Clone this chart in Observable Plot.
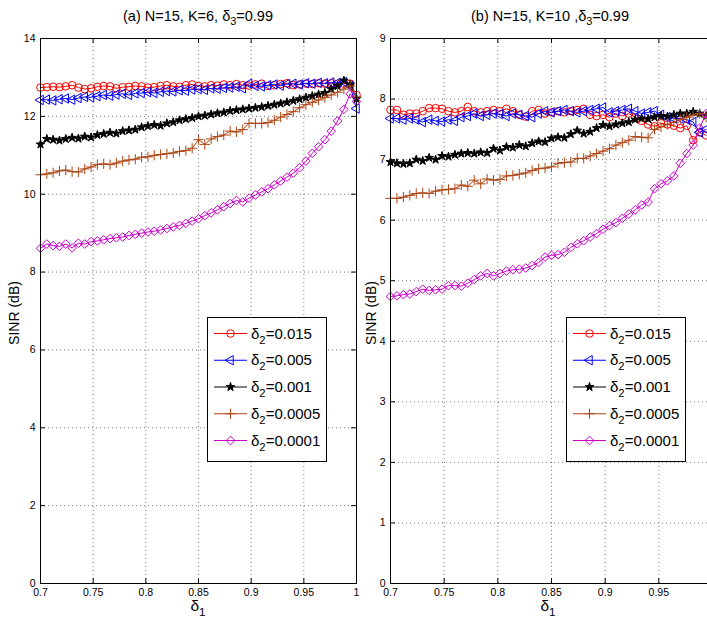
<!DOCTYPE html>
<html><head><meta charset="utf-8">
<script src="https://cdn.jsdelivr.net/npm/d3@7"></script>
<script src="https://cdn.jsdelivr.net/npm/@observablehq/plot@0.6"></script>
<style>
html,body{margin:0;padding:0;background:#fff;}
#root{position:relative;width:707px;height:618px;overflow:hidden;background:#fff;}
#root svg{position:absolute;top:0;}
</style></head><body><div id="root"></div>
<script>
// ---------- data ----------
const xLeft = [0.700,0.706,0.712,0.718,0.724,0.730,0.736,0.742,0.748,0.754,
  0.760,0.766,0.772,0.778,0.784,0.790,0.796,0.802,0.808,0.814,
  0.820,0.826,0.832,0.838,0.844,0.850,0.856,0.862,0.868,0.874,
  0.880,0.886,0.892,0.898,0.904,0.910,0.916,0.922,0.928,0.934,
  0.940,0.946,0.952,0.958,0.964,0.970,0.976,0.982,0.988,0.994,1.000];
const xRight = [0.700,0.706,0.712,0.718,0.724,0.730,0.736,0.742,0.748,0.754,
  0.760,0.766,0.772,0.778,0.784,0.790,0.796,0.802,0.808,0.814,
  0.820,0.826,0.832,0.838,0.844,0.850,0.856,0.862,0.868,0.874,
  0.880,0.886,0.892,0.898,0.904,0.910,0.916,0.922,0.928,0.934,
  0.940,0.946,0.952,0.958,0.964,0.970,0.976,0.982,0.988,0.994];

const leftD015 = [12.74,12.75,12.76,12.75,12.77,12.80,12.74,12.70,12.72,12.76,
  12.78,12.77,12.72,12.75,12.76,12.78,12.77,12.74,12.75,12.78,
  12.80,12.77,12.76,12.80,12.82,12.78,12.77,12.80,12.79,12.82,
  12.80,12.83,12.80,12.79,12.82,12.84,12.78,12.80,12.83,12.85,
  12.80,12.82,12.84,12.83,12.85,12.84,12.85,12.83,12.84,12.84,12.55];
const leftD005 = [12.42,12.43,12.41,12.44,12.46,12.43,12.47,12.50,12.49,12.52,
  12.55,12.53,12.56,12.58,12.55,12.59,12.60,12.62,12.60,12.63,
  12.65,12.64,12.67,12.66,12.69,12.70,12.68,12.72,12.71,12.73,
  12.74,12.76,12.72,12.84,12.78,12.77,12.80,12.82,12.79,12.83,
  12.84,12.82,12.85,12.84,12.86,12.85,12.87,12.86,12.88,12.78,12.20];
const leftD001 = [11.28,11.42,11.40,11.38,11.42,11.45,11.43,11.48,11.46,11.52,
  11.55,11.58,11.56,11.62,11.64,11.66,11.72,11.75,11.78,11.76,
  11.82,11.85,11.90,11.93,11.96,12.00,12.02,12.05,12.08,12.10,
  12.14,12.16,12.18,12.20,12.22,12.24,12.27,12.30,12.33,12.36,
  12.40,12.44,12.48,12.52,12.56,12.60,12.70,12.78,12.92,12.82,12.45];
const leftD0005 = [10.50,10.52,10.55,10.60,10.62,10.58,10.57,10.65,10.70,10.76,
  10.78,10.76,10.80,10.85,10.88,10.90,10.95,10.96,11.00,11.02,
  11.04,11.06,11.10,11.12,11.18,11.40,11.28,11.42,11.48,11.52,
  11.62,11.60,11.66,11.82,11.82,11.82,11.84,11.90,11.98,12.05,
  12.12,12.22,12.30,12.36,12.42,12.48,12.55,12.62,12.70,12.78,12.50];
const leftD0001 = [8.61,8.72,8.68,8.66,8.72,8.62,8.74,8.72,8.78,8.80,
  8.83,8.86,8.88,8.90,8.94,8.97,9.00,9.03,9.05,9.08,
  9.12,9.16,9.20,9.25,9.31,9.37,9.45,9.52,9.60,9.68,
  9.76,9.84,9.80,9.90,9.98,10.06,10.14,10.24,10.34,10.44,
  10.54,10.68,10.85,11.05,11.22,11.40,11.62,11.88,12.18,12.58,12.38];

const rightD015 = [7.82,7.82,7.74,7.76,7.76,7.80,7.85,7.85,7.84,7.80,
  7.78,7.80,7.87,7.80,7.78,7.80,7.82,7.80,7.84,7.80,
  7.74,7.71,7.80,7.82,7.76,7.78,7.80,7.78,7.80,7.82,
  7.84,7.74,7.72,7.74,7.70,7.76,7.72,7.76,7.70,7.64,
  7.58,7.55,7.60,7.58,7.56,7.52,7.56,7.32,7.45,7.40];
const rightD005 = [7.68,7.68,7.66,7.68,7.66,7.62,7.66,7.64,7.63,7.66,
  7.64,7.70,7.72,7.76,7.72,7.74,7.76,7.75,7.72,7.76,
  7.74,7.72,7.70,7.76,7.80,7.78,7.80,7.82,7.80,7.78,
  7.80,7.82,7.84,7.86,7.78,7.80,7.82,7.84,7.80,7.76,
  7.78,7.80,7.74,7.70,7.68,7.68,7.66,7.62,7.45,7.50];
const rightD001 = [6.96,6.94,6.93,6.94,7.00,6.98,7.03,7.00,7.06,7.05,
  7.08,7.10,7.11,7.10,7.12,7.11,7.18,7.15,7.21,7.20,
  7.24,7.22,7.27,7.30,7.29,7.35,7.37,7.36,7.42,7.48,
  7.43,7.46,7.52,7.57,7.55,7.58,7.60,7.62,7.66,7.68,
  7.67,7.70,7.72,7.71,7.74,7.76,7.76,7.79,7.76,7.72];
const rightD0005 = [6.36,6.36,6.38,6.41,6.44,6.45,6.44,6.48,6.50,6.51,
  6.52,6.58,6.56,6.66,6.60,6.68,6.66,6.67,6.73,6.74,
  6.76,6.78,6.82,6.85,6.86,6.88,6.94,6.95,6.96,7.02,
  7.02,7.06,7.10,7.14,7.18,7.24,7.28,7.32,7.38,7.37,
  7.36,7.50,7.54,7.58,7.62,7.66,7.70,7.73,7.76,7.70];
const rightD0001 = [4.74,4.75,4.77,4.78,4.82,4.86,4.84,4.85,4.86,4.92,
  4.92,4.91,4.96,5.02,5.08,5.12,5.08,5.12,5.16,5.18,
  5.19,5.21,5.25,5.30,5.39,5.42,5.43,5.47,5.55,5.61,
  5.66,5.72,5.78,5.85,5.91,5.96,6.03,6.10,6.17,6.25,
  6.30,6.52,6.60,6.65,6.73,6.94,7.10,7.24,7.52,7.76];

const legendLabels = ["0.015","0.005","0.001","0.0005","0.0001"];
const xTicksLeft = [0.7,0.75,0.8,0.85,0.9,0.95,1];
const xTicksRight = [0.7,0.75,0.8,0.85,0.9,0.95];
const yTicksLeft = [0,2,4,6,8,10,12,14];
const yTicksRight = [0,1,2,3,4,5,6,7,8,9];
const titleLeft = ["(a) N=15, K=6, δ","3","=0.99"];
const titleRight = ["(b) N=15, K=10 ,δ","3","=0.99"];

// ---------- styles ----------
const seriesStyle = [
  {color:"#ff0000", symbol:"circle", r:3.8, fill:"none", rotate:0},
  {color:"#0000ff", symbol:"triangle", r:3.5, fill:"none", rotate:-90},
  {color:"#000000", symbol:"star", r:2.7, fill:"#000000", rotate:0},
  {color:"#ad4514", symbol:"plus", r:3.4, fill:"none", rotate:0},
  {color:"#cc00cc", symbol:"diamond2", r:3.9, fill:"none", rotate:0}
];
const FONT = "'Liberation Sans', Arial, Helvetica, sans-serif";
const d3sym = {circle:d3.symbolCircle, triangle:d3.symbolTriangle, star:d3.symbolStar, plus:d3.symbolPlus, diamond2:d3.symbolDiamond2};

function addSubText(sel, x, y, parts, size, anchor, rotate) {
  const t = sel.append("text").attr("x", x).attr("y", y)
    .attr("font-family", FONT).attr("font-size", size).attr("fill", "black")
    .attr("text-anchor", anchor || "start");
  if (rotate) t.attr("transform", `rotate(${rotate},${x},${y})`);
  const sub = Math.round(size*0.3);
  t.append("tspan").text(parts[0]);
  if (parts.length > 1) {
    t.append("tspan").attr("dy", sub).attr("font-size", size*0.75).text(parts[1]);
    if (parts[2]) t.append("tspan").attr("dy", -sub).text(parts[2]);
  }
  return t;
}

function panel(cfg) {
  const {xs, series, xDomain, yDomain, xTicks, yTicks, width, marginLeft, marginRight} = cfg;
  const marginTop = 38, marginBottom = 35, height = 618;
  const innerH = height - marginTop - marginBottom;
  const innerW = width - marginLeft - marginRight;
  const marks = [
    Plot.gridX(xTicks, {stroke:"#7a7a7a", strokeOpacity:1, strokeDasharray:"1,3"}),
    Plot.gridY(yTicks, {stroke:"#7a7a7a", strokeOpacity:1, strokeDasharray:"1,3"}),
    Plot.tickX(xTicks, {x:d=>d, insetTop: innerH-5, stroke:"black"}),
    Plot.tickX(xTicks, {x:d=>d, insetBottom: innerH-5, stroke:"black"}),
    Plot.tickY(yTicks, {y:d=>d, insetRight: innerW-5, stroke:"black"}),
    Plot.tickY(yTicks, {y:d=>d, insetLeft: innerW-5, stroke:"black"}),
    Plot.axisX(xTicks, {tickSize:0, tickPadding:5, fontSize:10.5, label:null, tickFormat:d=>String(+d.toFixed(2))}),
    Plot.axisY(yTicks, {tickSize:0, tickPadding:5, fontSize:10.5, label:null, tickFormat:d=>String(d)})
  ];
  series.forEach((vals, k) => {
    const s = seriesStyle[k];
    const rows = xs.map((x, i) => ({x, y: vals[i]}));
    marks.push(Plot.line(rows, {x:"x", y:"y", stroke:s.color, strokeWidth:1}));
    marks.push(Plot.dot(rows, {x:"x", y:"y", symbol:s.symbol, r:s.r, stroke:s.color, fill:s.fill, rotate:s.rotate, strokeWidth:1}));
  });
  marks.push(Plot.frame({stroke:"black", strokeWidth:1}));
  const svg = Plot.plot({
    width, height, marginTop, marginBottom, marginLeft, marginRight,
    x:{domain:xDomain}, y:{domain:yDomain},
    style:{background:"transparent", fontFamily:FONT, fontSize:"10.5px", color:"black", overflow:"visible"},
    marks
  });
  return svg;
}

function legend(svg, bx, by, bw, bh) {
  const g = d3.select(svg).append("g");
  g.append("rect").attr("x", bx+0.5).attr("y", by+0.5).attr("width", bw).attr("height", bh)
    .attr("fill", "white").attr("stroke", "black").attr("stroke-width", 1);
  legendLabels.forEach((lab, k) => {
    const s = seriesStyle[k];
    const cy = by + 16.5 + k*26.75;
    g.append("line").attr("x1", bx+7).attr("x2", bx+40).attr("y1", cy).attr("y2", cy)
      .attr("stroke", s.color).attr("stroke-width", 1);
    g.append("path").attr("transform", `translate(${bx+23.5},${cy}) rotate(${s.rotate})`)
      .attr("d", d3.symbol(d3sym[s.symbol], Math.PI*s.r*s.r)())
      .attr("fill", s.fill).attr("stroke", s.color).attr("stroke-width", 1);
    addSubText(g, bx+44, cy+5, ["δ","2","="+lab], 15, "start");
  });
}

const root = document.getElementById("root");

// left panel
const svgL = panel({xs:xLeft, series:[leftD015,leftD005,leftD001,leftD0005,leftD0001],
  xDomain:[0.7,1], yDomain:[0,14], xTicks:xTicksLeft, yTicks:yTicksLeft,
  width:360, marginLeft:40, marginRight:4});
svgL.style.left = "0px";
root.appendChild(svgL);
{
  const s = d3.select(svgL);
  addSubText(s, 198, 21, titleLeft, 14.5, "middle");
  addSubText(s, 19, 313, ["SINR (dB)"], 14, "middle", -90);
  addSubText(s, 198, 611, ["δ","1"], 15.5, "middle");
  legend(svgL, 207, 317, 119, 144);
}

// right panel
const svgR = panel({xs:xRight, series:[rightD015,rightD005,rightD001,rightD0005,rightD0001],
  xDomain:[0.7,1], yDomain:[0,9], xTicks:xTicksRight, yTicks:yTicksRight,
  width:362, marginLeft:40, marginRight:0});
svgR.style.left = "350px";
root.appendChild(svgR);
{
  const s = d3.select(svgR);
  addSubText(s, 200, 21, titleRight, 14.5, "middle");
  addSubText(s, 26, 313, ["SINR (dB)"], 14, "middle", -90);
  addSubText(s, 198, 611, ["δ","1"], 15.5, "middle");
  legend(svgR, 216, 317, 119, 144);
}
</script></body></html>
